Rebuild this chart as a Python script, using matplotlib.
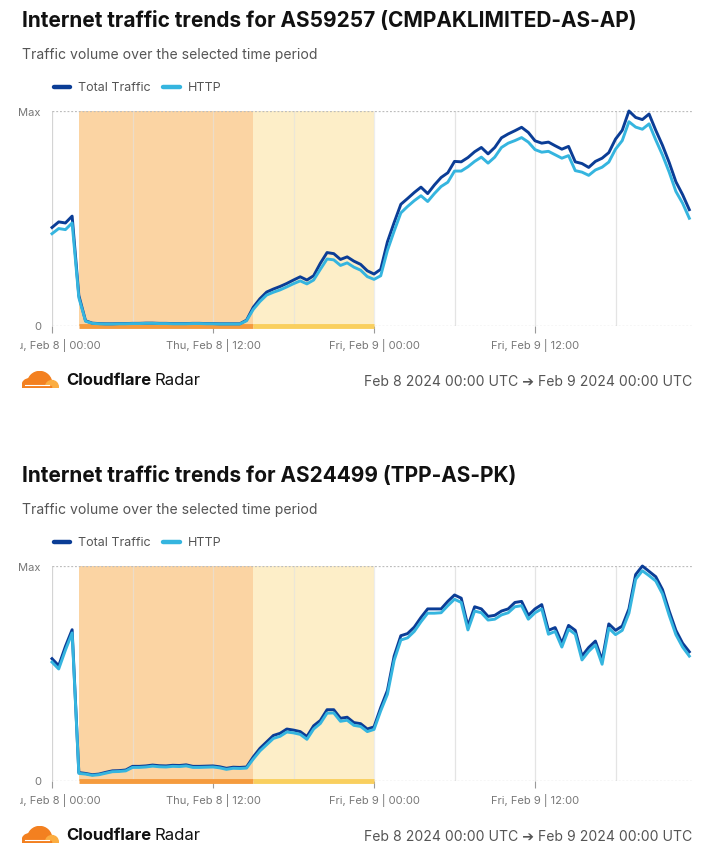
import numpy as np
import matplotlib
matplotlib.use("Agg")
import matplotlib.pyplot as plt
from matplotlib.lines import Line2D
from matplotlib.patches import Circle, Rectangle
from matplotlib.transforms import Bbox

plt.rcParams['font.family'] = ['Inter', 'DejaVu Sans']

W, H = 720, 853

# ---------------- data ----------------
hours = np.arange(0, 48, 0.5)

tick_hours = [0, 12, 24, 36]
tick_labels = ["Thu, Feb 8 | 00:00", "Thu, Feb 8 | 12:00",
               "Fri, Feb 9 | 00:00", "Fri, Feb 9 | 12:00"]
ytick_labels = ["0", "Max"]
outage_span = [2, 15]
recovery_span = [15, 24]

titles = ["Internet traffic trends for AS59257 (CMPAKLIMITED-AS-AP)",
          "Internet traffic trends for AS24499 (TPP-AS-PK)"]
subtitle = "Traffic volume over the selected time period"
series_names = ["Total Traffic", "HTTP"]
date_range = "Feb 8 2024 00:00 UTC \u2794 Feb 9 2024 00:00 UTC"

total_1 = [0.457, 0.483, 0.478, 0.510, 0.140, 0.022, 0.011, 0.009, 0.008, 0.008,
           0.009, 0.009, 0.010, 0.010, 0.011, 0.011, 0.010, 0.010, 0.009, 0.009,
           0.009, 0.010, 0.010, 0.009, 0.009, 0.008, 0.008, 0.008, 0.008, 0.025,
           0.085, 0.125, 0.156, 0.170, 0.182, 0.196, 0.212, 0.227, 0.212, 0.232,
           0.290, 0.340, 0.335, 0.308, 0.320, 0.300, 0.285, 0.255, 0.240, 0.262,
           0.390, 0.480, 0.565, 0.592, 0.620, 0.645, 0.615, 0.655, 0.690, 0.712,
           0.765, 0.763, 0.783, 0.810, 0.830, 0.800, 0.830, 0.875, 0.893, 0.908,
           0.924, 0.900, 0.861, 0.850, 0.855, 0.838, 0.822, 0.835, 0.763, 0.755,
           0.737, 0.765, 0.780, 0.806, 0.869, 0.910, 1.000, 0.970, 0.960, 0.986,
           0.910, 0.840, 0.760, 0.670, 0.610, 0.540]
http_1 = [0.428, 0.452, 0.447, 0.478, 0.130, 0.020, 0.010, 0.008, 0.007, 0.007,
          0.008, 0.008, 0.009, 0.009, 0.010, 0.010, 0.009, 0.009, 0.008, 0.008,
          0.008, 0.009, 0.009, 0.008, 0.008, 0.007, 0.007, 0.007, 0.007, 0.022,
          0.075, 0.112, 0.142, 0.155, 0.166, 0.180, 0.195, 0.208, 0.194, 0.212,
          0.262, 0.310, 0.306, 0.280, 0.292, 0.272, 0.258, 0.228, 0.215, 0.232,
          0.350, 0.440, 0.525, 0.555, 0.582, 0.605, 0.578, 0.615, 0.648, 0.668,
          0.720, 0.720, 0.740, 0.765, 0.785, 0.757, 0.785, 0.830, 0.850, 0.862,
          0.876, 0.855, 0.820, 0.808, 0.812, 0.796, 0.780, 0.792, 0.722, 0.715,
          0.700, 0.725, 0.738, 0.762, 0.822, 0.862, 0.950, 0.925, 0.915, 0.940,
          0.865, 0.795, 0.715, 0.625, 0.570, 0.500]

total_2 = [0.568, 0.535, 0.625, 0.703, 0.037, 0.033, 0.027, 0.030, 0.038, 0.045,
           0.046, 0.049, 0.066, 0.066, 0.068, 0.072, 0.069, 0.068, 0.071, 0.070,
           0.073, 0.066, 0.066, 0.067, 0.068, 0.064, 0.057, 0.062, 0.061, 0.063,
           0.110, 0.150, 0.180, 0.210, 0.220, 0.240, 0.235, 0.228, 0.205, 0.255,
           0.280, 0.330, 0.330, 0.290, 0.295, 0.270, 0.265, 0.240, 0.250, 0.340,
           0.420, 0.580, 0.675, 0.685, 0.715, 0.760, 0.800, 0.800, 0.800, 0.835,
           0.865, 0.850, 0.720, 0.810, 0.800, 0.765, 0.770, 0.790, 0.800, 0.830,
           0.835, 0.770, 0.800, 0.820, 0.700, 0.713, 0.640, 0.723, 0.700, 0.580,
           0.620, 0.650, 0.560, 0.730, 0.700, 0.720, 0.800, 0.960, 1.000, 0.975,
           0.950, 0.890, 0.790, 0.700, 0.640, 0.600]
http_2 = [0.552, 0.520, 0.608, 0.688, 0.033, 0.030, 0.024, 0.027, 0.034, 0.041,
          0.042, 0.045, 0.061, 0.061, 0.063, 0.067, 0.064, 0.063, 0.066, 0.065,
          0.068, 0.061, 0.061, 0.062, 0.063, 0.059, 0.052, 0.057, 0.056, 0.058,
          0.100, 0.138, 0.167, 0.196, 0.206, 0.226, 0.222, 0.215, 0.192, 0.240,
          0.266, 0.314, 0.315, 0.276, 0.281, 0.257, 0.252, 0.228, 0.238, 0.325,
          0.402, 0.560, 0.655, 0.665, 0.695, 0.740, 0.780, 0.780, 0.782, 0.815,
          0.845, 0.830, 0.702, 0.790, 0.782, 0.748, 0.752, 0.772, 0.782, 0.810,
          0.815, 0.752, 0.782, 0.800, 0.682, 0.695, 0.622, 0.705, 0.682, 0.562,
          0.602, 0.632, 0.542, 0.710, 0.680, 0.700, 0.780, 0.938, 0.978, 0.955,
          0.930, 0.870, 0.770, 0.680, 0.622, 0.580]

panels = [(total_1, http_1), (total_2, http_2)]

# ---------------- style ----------------
C_TOTAL = "#0b3d96"
C_HTTP = "#35b5df"
C_OUT = "#fbd4a3"
C_REC = "#fdeec8"
C_OUT_BAR = "#f59b3e"
C_REC_BAR = "#f9cf5e"
C_GRID = "#e2e2e2"

fig = plt.figure(figsize=(W / 100, H / 100), dpi=100)
fig.patch.set_facecolor("white")


def fx(x):
    return x / W


def fy(y):
    return 1 - y / H


def draw_logo(x0, y0, x1, y1):
    lax = fig.add_axes([fx(x0), fy(y1), fx(x1) - fx(x0), fy(y0) - fy(y1)])
    lax.set_xlim(0, 2.2)
    lax.set_ylim(0, 1)
    lax.axis("off")
    orange = "#f38020"
    light = "#fbad41"
    lax.add_patch(Circle((1.05, 0.25), 0.72, color=orange))
    lax.add_patch(Circle((0.42, 0.12), 0.42, color=orange))
    lax.add_patch(Circle((1.78, 0.06), 0.38, color=light))
    lax.add_patch(Rectangle((0.0, 0.0), 1.7, 0.12, color=orange))
    lax.plot([0.2, 1.6], [0.16, 0.16], color="white", lw=0.8)


label_clip = Bbox.from_extents(20, 0, W, H)

for i, (tot, http) in enumerate(panels):
    off = i * 455
    # title & subtitle
    fig.text(fx(22), fy(21 + off), titles[i], fontsize=15, fontweight="bold",
             color="#111111", va="center", ha="left")
    fig.text(fx(22), fy(55 + off), subtitle, fontsize=10.1, color="#555555",
             va="center", ha="left")
    # legend
    for (lx0, lx1, tx, name, col) in [(54, 70, 78, series_names[0], C_TOTAL),
                                      (163, 180, 188, series_names[1], C_HTTP)]:
        fig.add_artist(Line2D([fx(lx0), fx(lx1)], [fy(88 + off)] * 2,
                              color=col, lw=3.2, solid_capstyle="round",
                              transform=fig.transFigure))
        fig.text(fx(tx), fy(88 + off), name, fontsize=9, color="#555555",
                 va="center", ha="left")

    # axes
    top, bot = 112 + off, 326.5 + off
    ax = fig.add_axes([fx(52), fy(bot), fx(692) - fx(52), fy(top) - fy(bot)])
    ymax = max(tot)
    ax.set_xlim(0, 47.7)
    ax.set_ylim(0, ymax)
    for s in ax.spines.values():
        s.set_visible(False)
    ax.axvspan(outage_span[0], outage_span[1], color=C_OUT, lw=0, zorder=0)
    ax.axvspan(recovery_span[0], recovery_span[1], color=C_REC, lw=0, zorder=0)
    for g in range(6, 48, 6):
        ax.axvline(g, color=C_GRID, lw=0.9, zorder=1,
                   alpha=0.9 if g > 24 else 0.6)
    ax.axvline(0, color="#d4d4d4", lw=0.9, zorder=1)
    ax.axhline(ymax, color="#bdbdbd", lw=0.9, ls=(0, (1.5, 1.5)), zorder=1)
    ax.axhline(0, color="#bdbdbd", lw=0.9, ls=(0, (1.5, 1.5)), zorder=1)
    ax.plot(outage_span, [0, 0], color=C_OUT_BAR, lw=3.5,
            solid_capstyle="butt", clip_on=False, zorder=2)
    ax.plot(recovery_span, [0, 0], color=C_REC_BAR, lw=3.5,
            solid_capstyle="butt", clip_on=False, zorder=2)

    ax.plot(hours, tot, color=C_TOTAL, lw=2.1, solid_joinstyle="round",
            zorder=3, clip_on=False)
    ax.plot(hours, http, color=C_HTTP, lw=2.1, solid_joinstyle="round",
            zorder=4, clip_on=False)

    ax.set_xticks(tick_hours)
    ax.set_xticklabels(tick_labels)
    ax.tick_params(axis="x", length=5, width=0.8, color="#9a9a9a",
                   labelsize=8, labelcolor="#777777", pad=4)
    for lab in ax.get_xticklabels():
        lab.set_clip_on(True)
        lab.set_clip_box(label_clip)
    ax.set_yticks([0, ymax])
    ax.set_yticklabels(ytick_labels)
    ax.tick_params(axis="y", length=0, labelsize=8, labelcolor="#777777",
                   pad=8)

    # footer
    draw_logo(22, 372 + off, 59, 389 + off)
    t1 = fig.text(fx(66), fy(381 + off), "Cloudflare", fontsize=12,
                  fontweight="bold", color="#111111", va="center", ha="left")
    fig.canvas.draw()
    bb = t1.get_window_extent()
    fig.text((bb.x1 + 3) / W, fy(381 + off), "Radar", fontsize=12,
             color="#111111", va="center", ha="left")
    fig.text(fx(692), fy(382 + off), date_range, fontsize=10.1,
             color="#555555", va="center", ha="right")

fig.savefig("out.png", dpi=100)
